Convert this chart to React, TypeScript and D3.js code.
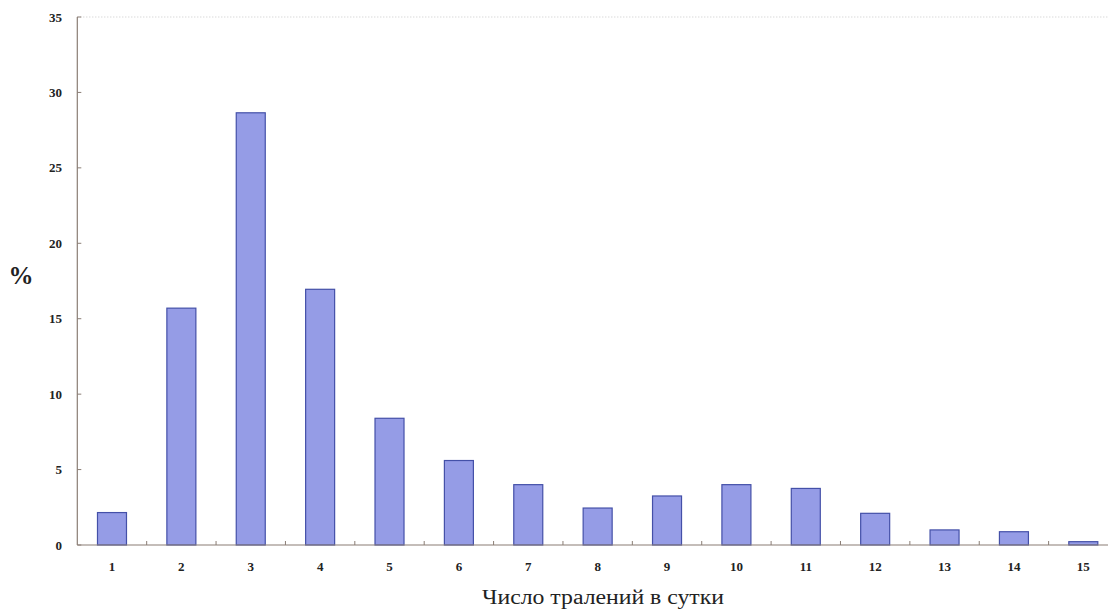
import React from "react";
import * as d3 from "d3";

const categories = ["1", "2", "3", "4", "5", "6", "7", "8", "9", "10", "11", "12", "13", "14", "15"];
const values = [2.15, 15.7, 28.65, 16.95, 8.4, 5.6, 4.0, 2.45, 3.25, 4.0, 3.75, 2.1, 1.0, 0.88, 0.22];
const yTicks = [0, 5, 10, 15, 20, 25, 30, 35];
const xTitle = "Число тралений в сутки";
const yTitle = "%";

const W = 1108;
const H = 610;
const left = 77.3;
const right = 1118;
const top = 17;
const bottom = 545;

export default function App() {
  const x = d3.scaleBand<string>().domain(categories).range([left, right]).paddingInner(0).paddingOuter(0);
  const y = d3.scaleLinear().domain([0, 35]).range([bottom, top]);
  const bw = x.bandwidth() * 0.418;
  const serif = "'Liberation Serif', 'DejaVu Serif', serif";

  return (
    <svg width={W} height={H} style={{ position: "absolute", left: 0, top: 0, background: "#fff" }}>
      {/* top dotted border */}
      <line x1={left} x2={W} y1={top} y2={top} stroke="#c8c8c8" strokeWidth={1} strokeDasharray="1,2" />
      {/* bars */}
      {values.map((v, i) => {
        const cx = (x(categories[i]) as number) + x.bandwidth() / 2;
        return (
          <rect
            key={i}
            x={cx - bw / 2}
            y={y(v)}
            width={bw}
            height={y(0) - y(v)}
            fill="#959ce6"
            stroke="#4450a8"
            strokeWidth={1.2}
          />
        );
      })}
      {/* y axis */}
      <line x1={left} x2={left} y1={top} y2={bottom} stroke="#8a7d74" strokeWidth={1.2} />
      {yTicks.map((t) => (
        <g key={t}>
          <line x1={left} x2={left + 4} y1={y(t)} y2={y(t)} stroke="#8a7d74" strokeWidth={1} />
          <text
            x={62}
            y={y(t)}
            dy="0.35em"
            textAnchor="end"
            fontFamily={serif}
            fontWeight="bold"
            fontSize={13}
            fill="#222"
          >
            {t}
          </text>
        </g>
      ))}
      {/* x axis */}
      <line x1={left} x2={right} y1={bottom} y2={bottom} stroke="#8a7d74" strokeWidth={1.2} />
      {categories.slice(1).map((c) => (
        <line
          key={c}
          x1={x(c) as number}
          x2={x(c) as number}
          y1={bottom}
          y2={bottom - 4}
          stroke="#8a7d74"
          strokeWidth={1}
        />
      ))}
      {categories.map((c) => (
        <text
          key={c}
          x={(x(c) as number) + x.bandwidth() / 2}
          y={571}
          textAnchor="middle"
          fontFamily={serif}
          fontWeight="bold"
          fontSize={13}
          fill="#222"
        >
          {c}
        </text>
      ))}
      <text
        x={603}
        y={604}
        textAnchor="middle"
        fontFamily={serif}
        fontSize={20}
        fill="#222"
        textLength={242}
        lengthAdjust="spacingAndGlyphs"
      >
        {xTitle}
      </text>
      <text x={21} y={284} textAnchor="middle" fontFamily={serif} fontWeight="bold" fontSize={25} fill="#222">
        {yTitle}
      </text>
    </svg>
  );
}
